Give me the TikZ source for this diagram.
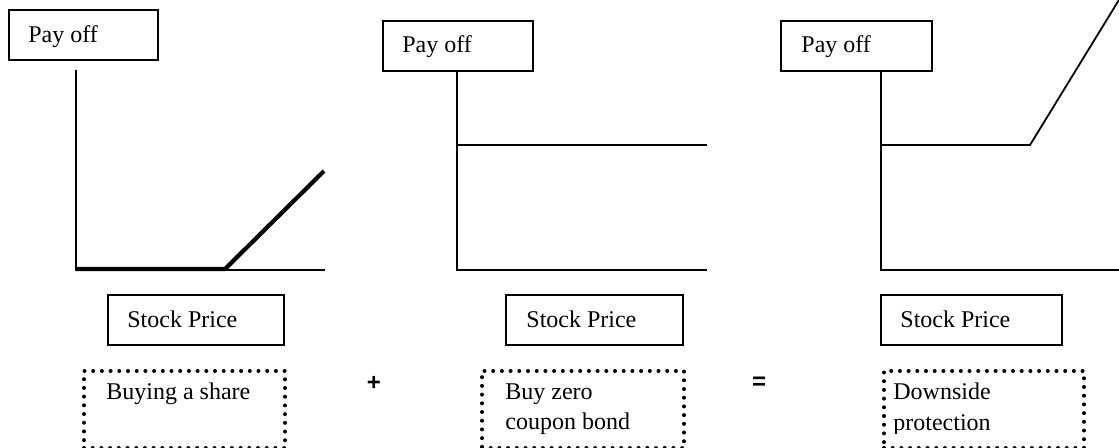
\documentclass[tikz,border=0pt]{standalone}
\usepackage{fontspec}
\setmainfont{Liberation Serif}
\newfontfamily\signfont{Liberation Sans}
\begin{document}
\begin{tikzpicture}[x=0.5pt,y=-0.5pt,
  frame/.style={draw, line width=0.9pt, inner sep=0pt, anchor=north west, minimum height=25pt},
  lbl/.style={anchor=base west, inner sep=0pt, font=\fontsize{12}{14}\selectfont},
  axisline/.style={line width=0.9pt, line join=miter},
  thickpay/.style={line width=2.1pt, line join=miter},
  dotbox/.style={draw, line width=2pt, dash pattern=on 0pt off 4.35pt, line cap=round, inner sep=0pt, anchor=north west, minimum height=38.5pt},
  sign/.style={font=\signfont\bfseries\fontsize{12}{14}\selectfont, inner sep=0pt}
]
\useasboundingbox (0,0) rectangle (1119,447);
\clip (0,0) rectangle (1119,447);

% ---- label frames ----
\node[frame, minimum width=74.5pt] (pay1) at (8,9) {};
\node[frame, minimum width=75pt]   (pay2) at (382,20) {};
\node[frame, minimum width=75.5pt] (pay3) at (780,20) {};
\node[frame, minimum width=88pt]   (sp1) at (107,294) {};
\node[frame, minimum width=88.5pt] (sp2) at (505,294) {};
\node[frame, minimum width=90.5pt] (sp3) at (880,294) {};

\node[lbl] (tpay1) at (28,42) {Pay off};
\node[lbl] (tpay2) at (402,52) {Pay off};
\node[lbl] (tpay3) at (801,52) {Pay off};
\node[lbl] (tsp1) at (127,327) {Stock Price};
\node[lbl] (tsp2) at (526,327) {Stock Price};
\node[lbl] (tsp3) at (900,327) {Stock Price};

% ---- strategy boxes ----
\node[dotbox, minimum width=100.5pt] (st1) at (82,369) {};
\node[dotbox, minimum width=101pt]   (st2) at (480,369) {};
\node[dotbox, minimum width=100pt]   (st3) at (882,369) {};

\node[lbl] (tst1) at (106,399) {Buying a share};
\node[lbl] (tst2a) at (505,399) {Buy zero};
\node[lbl] (tst2b) at (505,429) {coupon bond};
\node[lbl] (tst3a) at (893,399) {Downside};
\begin{scope}
  \clip (880,380) rectangle (1085,433);
  \node[lbl] (tst3b) at (893,430) {protection};
\end{scope}

\node[sign] (plus) at (374,383) {+};
\node[sign] (eq) at (759,383) {=};

% ---- panel 1: long share ----
\coordinate (o1) at (76,270);
\draw[axisline] (76,70) -- (o1) -- (325,270);
\coordinate (k1) at (225,269);
\draw[thickpay] (76,269) -- (k1) -- (324,171);

% ---- panel 2: zero coupon bond ----
\coordinate (o2) at (457,270);
\draw[axisline] (457,70) -- (o2) -- (707,270);
\draw[axisline] (457,145) -- (707,145);

% ---- panel 3: protected position ----
\coordinate (o3) at (881,270);
\coordinate (k3) at (1030,145);
\draw[axisline] (881,70) -- (o3) -- (1119,270);
\draw[axisline] (881,145) -- (k3) -- (1119.5,-1);
\end{tikzpicture}
\end{document}
